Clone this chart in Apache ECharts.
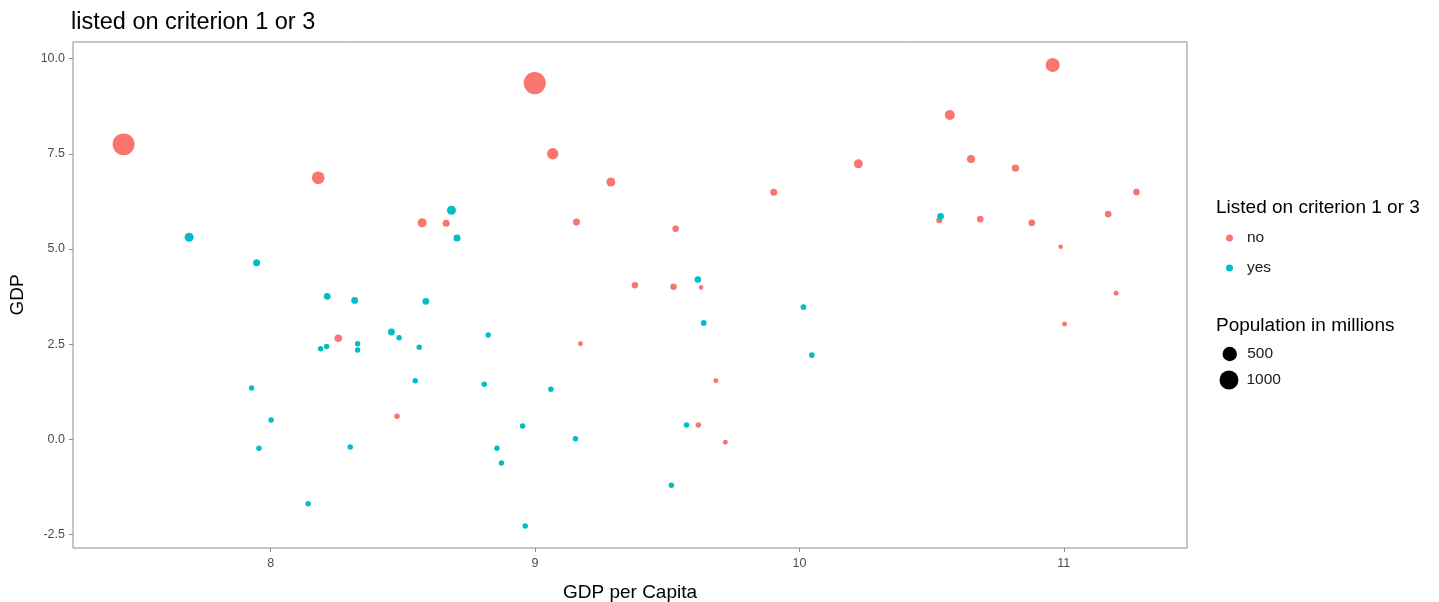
<!DOCTYPE html>
<html>
<head>
<meta charset="utf-8">
<script src="https://cdn.jsdelivr.net/npm/echarts@6/dist/echarts.min.js"></script>
<style>
html,body{margin:0;padding:0;background:#fff;}
#main{width:1439px;height:602px;}
</style>
</head>
<body>
<div id="main"></div>
<script>
// ---- data: [GDP per capita (log), GDP growth, population in millions] ----
const notListed = [
  [7.444, 7.75, 1420], [8.180, 6.87, 351], [8.573, 5.69, 123], [8.664, 5.675, 49],
  [8.256, 2.654, 64], [8.478, 0.604, 15], [8.999, 9.36, 1450], [9.067, 7.504, 251],
  [9.287, 6.76, 123], [9.903, 6.49, 49], [9.157, 5.71, 49], [9.532, 5.53, 36],
  [9.378, 4.046, 36], [9.524, 4.01, 36], [9.628, 3.99, 5], [9.172, 2.51, 8],
  [9.684, 1.54, 8], [9.618, 0.376, 15], [9.720, -0.079, 8], [10.958, 9.834, 458],
  [10.569, 8.52, 173], [10.223, 7.24, 123], [10.649, 7.365, 82], [10.817, 7.128, 58],
  [11.275, 6.498, 41], [11.168, 5.92, 41], [10.529, 5.754, 24], [10.684, 5.788, 41],
  [10.879, 5.69, 41], [10.988, 5.06, 5], [11.198, 3.836, 8], [11.003, 3.03, 8]
];
const listed = [
  [8.684, 6.02, 123], [7.692, 5.31, 123], [8.705, 5.29, 49], [7.947, 4.64, 49],
  [8.214, 3.757, 45], [8.318, 3.65, 45], [8.587, 3.626, 45], [8.457, 2.82, 45],
  [8.486, 2.67, 15], [8.329, 2.51, 15], [8.212, 2.44, 15], [8.189, 2.38, 15],
  [8.329, 2.346, 15], [8.562, 2.417, 15], [8.547, 1.54, 15], [7.928, 1.348, 15],
  [8.002, 0.507, 15], [7.956, -0.237, 15], [8.301, -0.202, 15], [8.142, -1.692, 15],
  [9.616, 4.2, 36], [10.015, 3.476, 20], [8.823, 2.74, 15], [9.638, 3.056, 20],
  [10.047, 2.215, 20], [8.808, 1.445, 15], [9.060, 1.313, 15], [8.953, 0.349, 15],
  [9.573, 0.376, 15], [9.153, 0.016, 15], [8.856, -0.237, 15], [8.873, -0.623, 15],
  [9.516, -1.209, 15], [8.963, -2.278, 15], [10.534, 5.86, 41]
];
const categories = ['no', 'yes'];
const sizeBreaks = [500, 1000];
const xTicks = [8, 9, 10, 11];
const yTicks = [-2.5, 0, 2.5, 5, 7.5, 10];

const FONT = '"Liberation Sans", Arial, sans-serif';
const RED = '#F8766D', CYAN = '#00BFC4';
const AXIS_GREY = '#8c8c8c';
function sizeOf(pop) { return 3.6 + 0.486 * Math.sqrt(pop); }

const chart = echarts.init(document.getElementById('main'), null, {renderer: 'canvas'});
chart.setOption({
  animation: false,
  backgroundColor: '#fff',
  textStyle: {fontFamily: FONT},
  title: [
    {text: 'listed on criterion 1 or 3', left: 71, top: 11, padding: 0,
     textStyle: {fontSize: 23.5, fontWeight: 'normal', color: '#000', fontFamily: FONT}},
    {text: 'Listed on criterion 1 or 3', left: 1216, top: 198, padding: 0,
     textStyle: {fontSize: 19, fontWeight: 'normal', color: '#000', fontFamily: FONT}},
    {text: 'Population in millions', left: 1216, top: 316, padding: 0,
     textStyle: {fontSize: 19, fontWeight: 'normal', color: '#000', fontFamily: FONT}}
  ],
  grid: {left: 73, right: 252, top: 42, bottom: 54, show: true,
         outerBoundsMode: 'none', containLabel: false,
         borderColor: AXIS_GREY, borderWidth: 1, backgroundColor: 'transparent'},
  legend: [
    {data: categories, orient: 'vertical', left: 1226, top: 230, padding: 0,
     icon: 'circle', itemWidth: 25, itemHeight: 7, itemGap: 14,
     textStyle: {fontSize: 15.5, color: '#1a1a1a', lineHeight: 14, fontFamily: FONT},
     selectedMode: false},
    {data: [{name: String(sizeBreaks[0]), itemStyle: {color: '#000', opacity: 1}}], orient: 'vertical',
     left: 1222.5, top: 346, padding: 0,
     icon: 'circle', itemWidth: 25, itemHeight: sizeOf(sizeBreaks[0]),
     textStyle: {fontSize: 15.5, color: '#1a1a1a', lineHeight: sizeOf(sizeBreaks[0]), fontFamily: FONT},
     selectedMode: false},
    {data: [{name: String(sizeBreaks[1]), itemStyle: {color: '#000', opacity: 1}}], orient: 'vertical',
     left: 1219.5, top: 370.5, padding: 0,
     icon: 'circle', itemWidth: 25, itemHeight: sizeOf(sizeBreaks[1]),
     textStyle: {fontSize: 15.5, color: '#1a1a1a', lineHeight: sizeOf(sizeBreaks[1]), fontFamily: FONT},
     selectedMode: false}
  ],
  xAxis: {
    type: 'value', min: 7.2526, max: 11.466,
    name: 'GDP per Capita', nameLocation: 'middle', nameGap: 35,
    nameTextStyle: {fontSize: 19, color: '#000', fontFamily: FONT},
    axisLine: {show: false, onZero: false},
    axisTick: {show: true, length: 4, customValues: xTicks, lineStyle: {color: AXIS_GREY}},
    axisLabel: {customValues: xTicks, margin: 9, fontSize: 12.5, color: '#4d4d4d', fontFamily: FONT},
    splitLine: {show: false}
  },
  yAxis: {
    type: 'value', min: -2.856, max: 10.44,
    name: 'GDP', nameLocation: 'middle', nameGap: 46,
    nameTextStyle: {fontSize: 19, color: '#000', fontFamily: FONT},
    axisLine: {show: false, onZero: false},
    axisTick: {show: true, length: 4, customValues: yTicks, lineStyle: {color: AXIS_GREY}},
    axisLabel: {customValues: yTicks, margin: 8, fontSize: 12.5, color: '#4d4d4d', fontFamily: FONT,
                formatter: v => Number(v).toFixed(1)},
    splitLine: {show: false}
  },
  series: [
    {name: categories[0], type: 'scatter', data: notListed,
     symbolSize: v => sizeOf(v[2]), itemStyle: {color: RED, opacity: 1}},
    {name: categories[1], type: 'scatter', data: listed,
     symbolSize: v => sizeOf(v[2]), itemStyle: {color: CYAN, opacity: 1}},
    {name: String(sizeBreaks[0]), type: 'scatter', data: [], itemStyle: {color: '#000', opacity: 1}},
    {name: String(sizeBreaks[1]), type: 'scatter', data: [], itemStyle: {color: '#000', opacity: 1}}
  ]
});
</script>
</body>
</html>
